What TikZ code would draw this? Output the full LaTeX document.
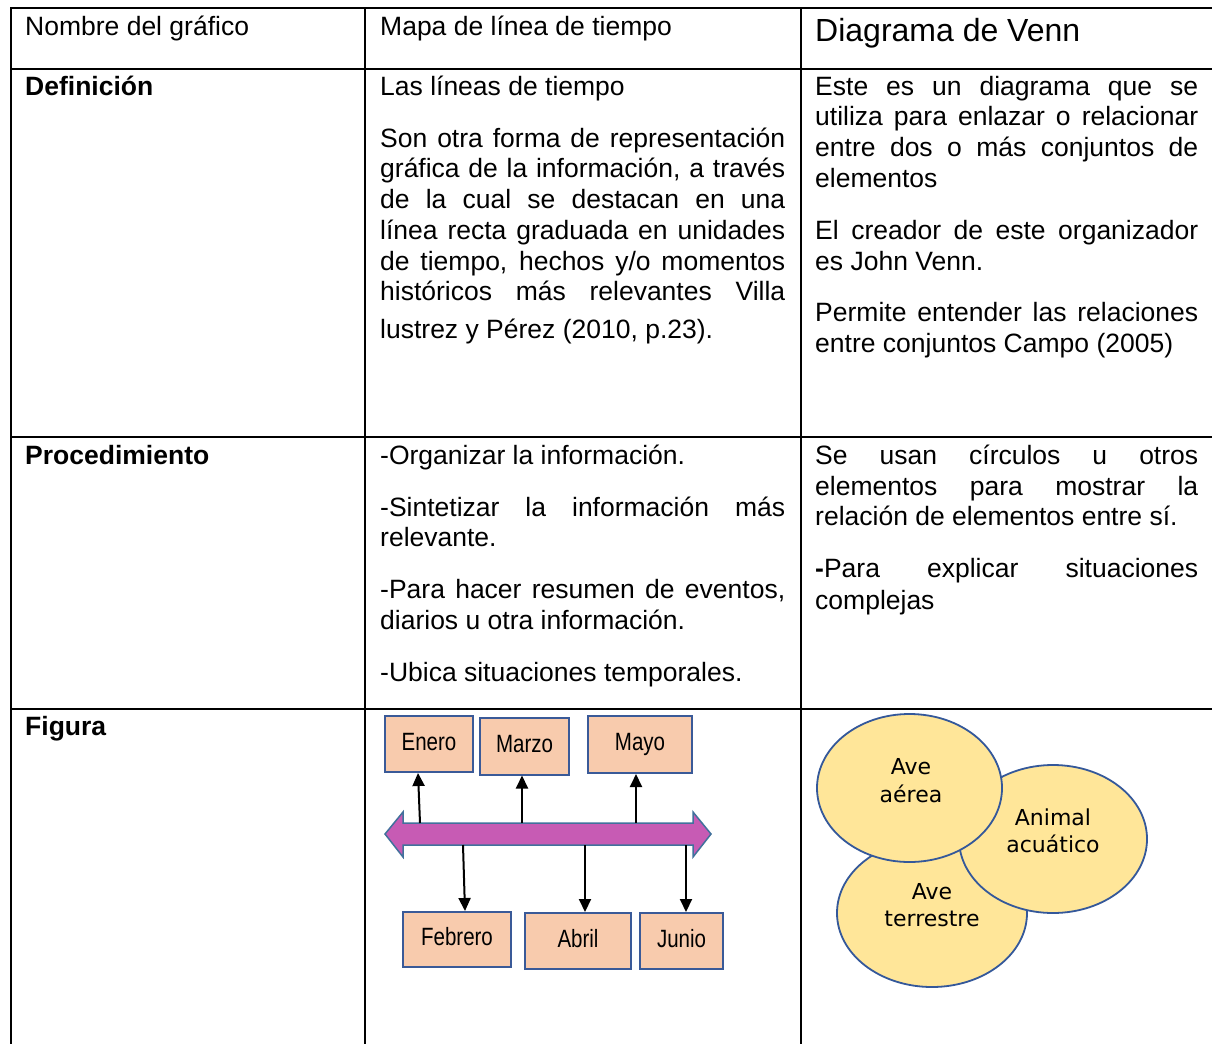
\documentclass[tikz,border=0pt]{standalone}
\usepackage{fontspec}
\setmainfont{Liberation Sans}
\newfontfamily\vennfont{DejaVu Sans}
\newfontfamily\narrowfont[FakeStretch=0.82]{Liberation Sans}
\usetikzlibrary{arrows.meta,shapes.geometric}
\definecolor{peach}{HTML}{F8CBAD}
\definecolor{boxblue}{HTML}{3A5A98}
\definecolor{barfill}{HTML}{C75BB4}
\definecolor{barblue}{HTML}{41719C}
\definecolor{vennfill}{HTML}{FFE699}
\definecolor{vennblue}{HTML}{34589A}
\newcommand\jtwo[1]{\makebox[405pt][s]{#1}}
\newcommand\jthree[1]{\makebox[383pt][s]{#1}}
\begin{document}
\begin{tikzpicture}[x=1pt,y=-1pt,
 grid/.style={line width=2pt, black},
 txt/.style={anchor=base west, inner sep=0pt, font=\fontsize{26.5}{30.7}\selectfont},
 month/.style={draw=boxblue, fill=peach, line width=2pt, inner sep=0pt, text height=18pt, text depth=6pt, font=\narrowfont\fontsize{25}{28}\selectfont},
 conn/.style={line width=2pt, -{Triangle[length=13pt,width=12pt]}},
 vennshape/.style={ellipse, draw=vennblue, fill=vennfill, line width=1.8pt, inner sep=0pt},
 vtxt/.style={anchor=base, inner sep=0pt, font=\vennfont\fontsize{22}{28}\selectfont}]
\useasboundingbox (0,0) rectangle (1212,1044);
\fill[white] (0,0) rectangle (1212,1044);

% table grid
\draw[grid] (11,8) -- (1212,8);
\draw[grid] (11,69) -- (1212,69);
\draw[grid] (11,437) -- (1212,437);
\draw[grid] (11,709) -- (1212,709);
\draw[grid] (11,7) -- (11,1044);
\draw[grid] (365,7) -- (365,1044);
\draw[grid] (801,7) -- (801,1044);

% header row
\node[txt] (h1) at (25,35.5) {Nombre del gráfico};
\node[txt] (h2) at (380,35.5) {Mapa de línea de tiempo};
\node[txt,font=\fontsize{32}{36}\selectfont] (h3) at (815,41.5) {Diagrama de Venn};

% definicion row
\node[txt,font=\bfseries\fontsize{26.5}{30.7}\selectfont] (d1) at (25,95.5) {Definición};
\node[txt] (d2a) at (380,95.5) {Las líneas de tiempo};
\node[txt] (d2b) at (380,147.5) {\jtwo{Son otra forma de representación}};
\node[txt] (d2c) at (380,177.5) {\jtwo{gráfica de la información, a través}};
\node[txt] (d2d) at (380,208.5) {\jtwo{de la cual se destacan en una}};
\node[txt] (d2e) at (380,239.5) {\jtwo{línea recta graduada en unidades}};
\node[txt] (d2f) at (380,270.5) {\jtwo{de tiempo, hechos y/o momentos}};
\node[txt] (d2g) at (380,300.5) {\jtwo{históricos más relevantes Villa}};
\node[txt] (d2h) at (380,338.5) {lustrez y Pérez (2010, p.23).};
\node[txt] (d3a) at (815,95.5) {\jthree{Este es un diagrama que se}};
\node[txt] (d3b) at (815,125.5) {\jthree{utiliza para enlazar o relacionar}};
\node[txt] (d3c) at (815,156.5) {\jthree{entre dos o más conjuntos de}};
\node[txt] (d3d) at (815,187.5) {elementos};
\node[txt] (d3e) at (815,239.5) {\jthree{El creador de este organizador}};
\node[txt] (d3f) at (815,270.5) {es John Venn.};
\node[txt] (d3g) at (815,321.5) {\jthree{Permite entender las relaciones}};
\node[txt] (d3h) at (815,352.5) {entre conjuntos Campo (2005)};

% procedimiento row
\node[txt,font=\bfseries\fontsize{26.5}{30.7}\selectfont] (p1) at (25,464.5) {Procedimiento};
\node[txt] (p2a) at (380,464.5) {-Organizar la información.};
\node[txt] (p2b) at (380,516.5) {\jtwo{-Sintetizar la información más}};
\node[txt] (p2c) at (380,546.5) {relevante.};
\node[txt] (p2d) at (380,598.5) {\jtwo{-Para hacer resumen de eventos,}};
\node[txt] (p2e) at (380,629.5) {diarios u otra información.};
\node[txt] (p2f) at (380,681.5) {-Ubica situaciones temporales.};
\node[txt] (p3a) at (815,464.5) {\jthree{Se usan círculos u otros}};
\node[txt] (p3b) at (815,495.5) {\jthree{elementos para mostrar la}};
\node[txt] (p3c) at (815,525.5) {relación de elementos entre sí.};
\node[txt] (p3d) at (815,577.5) {\jthree{\textbf{-}Para explicar situaciones}};
\node[txt] (p3e) at (815,609.5) {complejas};

% figura row
\node[txt,font=\bfseries\fontsize{26.5}{30.7}\selectfont] (f1) at (25,735.5) {Figura};

% timeline
\draw[fill=barfill, draw=barblue, line width=1.5pt]
  (385,834) -- (403,812) -- (403,823) -- (693,823) -- (693,812) -- (711,834)
  -- (693,857) -- (693,845) -- (403,845) -- (403,857) -- cycle;
\node[month, minimum width=88pt, minimum height=56pt] (enero) at (429,744) {Enero};
\node[month, minimum width=89pt, minimum height=57pt] (marzo) at (524.5,746) {Marzo};
\node[month, minimum width=104pt, minimum height=57pt] (mayo) at (640,744.5) {Mayo};
\node[month, minimum width=108pt, minimum height=55pt] (febrero) at (457,939.5) {Febrero};
\node[month, minimum width=106pt, minimum height=56pt] (abril) at (578,941) {Abril};
\node[month, minimum width=83pt, minimum height=56pt] (junio) at (681.5,941) {Junio};
\coordinate (pe) at (420,823);
\coordinate (pm) at (522,823);
\coordinate (py) at (636,823);
\coordinate (pf) at (463,845);
\coordinate (pa) at (585,845);
\coordinate (pj) at (686,845);
\draw[conn] (pe) -- ([xshift=-11pt]enero.south);
\draw[conn] (pm) -- ([xshift=-2.5pt]marzo.south);
\draw[conn] (py) -- ([xshift=-4pt]mayo.south);
\draw[conn] (pf) -- ([xshift=8pt]febrero.north);
\draw[conn] (pa) -- ([xshift=7pt]abril.north);
\draw[conn] (pj) -- ([xshift=4.5pt]junio.north);

% venn
\node[vennshape, minimum width=190pt, minimum height=148pt] (terrestre) at (932,913) {};
\node[vennshape, minimum width=188pt, minimum height=148pt] (acuatico) at (1053,839) {};
\node[vennshape, minimum width=185pt, minimum height=148pt] (aerea) at (909.5,788) {};
\node[vtxt] (va1) at (911,774) {Ave};
\node[vtxt] (va2) at (911,802) {aérea};
\node[vtxt] (vb1) at (1053,825) {Animal};
\node[vtxt] (vb2) at (1053,852) {acuático};
\node[vtxt] (vc1) at (932,899) {Ave};
\node[vtxt] (vc2) at (932,926) {terrestre};
\end{tikzpicture}
\end{document}
